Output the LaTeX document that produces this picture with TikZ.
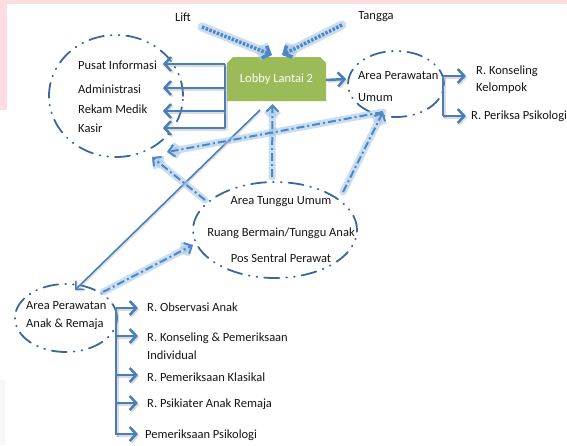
\documentclass[tikz,border=0pt]{standalone}
\usepackage{fontspec}
\setmainfont{Carlito}
\usetikzlibrary{arrows.meta,calc,shapes.geometric}
\definecolor{pinkbg}{HTML}{FCDDE1}
\definecolor{lobbygreen}{HTML}{9BBB59}
\definecolor{arrowblue}{HTML}{4A7EBB}
\definecolor{ellblue}{HTML}{3A679C}
\definecolor{glowblue}{HTML}{9DC3E6}
\definecolor{dashblue}{HTML}{4F86C6}
\begin{document}
\begin{tikzpicture}[x=1pt,y=-1pt,
  every node/.style={font=\fontsize{12.5}{15}\selectfont, inner sep=1pt, text=black!92},
  lbl/.style={anchor=west},
  zone/.style={ellipse, draw=ellblue, line width=1.8pt, line cap=round,
    dash pattern=on 15pt off 7pt on 0.8pt off 7pt on 0.8pt off 7pt, inner sep=0pt},
  lobbybox/.style={minimum width=99pt, minimum height=44pt, inner sep=0pt, text=white, fill=white,
    path picture={\fill[lobbygreen] (path picture bounding box.south west)
      -- ([yshift=-6pt]path picture bounding box.north west)
      -- ([xshift=6pt]path picture bounding box.north west)
      -- ([xshift=-6pt]path picture bounding box.north east)
      -- ([yshift=-6pt]path picture bounding box.north east)
      -- (path picture bounding box.south east) -- cycle;}},
  shadowed/.style={preaction={draw=black!40, opacity=.35, line width=2.5pt,
    transform canvas={shift={(1.5pt,-1.5pt)}}}},
  solidline/.style={draw=arrowblue, line width=2.5pt, shadowed},
  solidarrow/.style={solidline, -{Straight Barb[length=6.5pt,width=14pt]}},
  thinarrow/.style={draw=arrowblue, line width=1.6pt, -{Straight Barb[length=6pt,width=12pt]},
    preaction={draw=black!40, opacity=.3, line width=1.6pt, transform canvas={shift={(1.2pt,-1.2pt)}}}},
  glowline/.style={draw=dashblue, line width=2pt, dash pattern=on 8pt off 3pt on 2pt off 3pt,
    -{Straight Barb[length=6pt,width=12pt]},
    preaction={draw=glowblue, line width=7pt, opacity=.55, solid, line cap=round}},
  dotglow/.style={draw=dashblue, line width=3.5pt, dash pattern=on 2.5pt off 1.5pt,
    -{Straight Barb[length=6pt,width=13pt]},
    preaction={draw=glowblue, line width=9pt, opacity=.55, solid, line cap=round}}
]
\useasboundingbox (0,0) rectangle (567,445);
% background
\fill[pinkbg] (0,0) rectangle (567,4);
\fill[pinkbg] (0,0) rectangle (7,110);
\fill[black!3] (0,380) rectangle (5,445);

% zones
\node[zone, minimum width=134pt, minimum height=122pt] (left) at (116,96) {};
\node[zone, minimum width=96pt, minimum height=66pt] (apu) at (396,84) {};
\node[zone, minimum width=164pt, minimum height=96pt] (mid) at (275,230) {};
\node[zone, minimum width=102pt, minimum height=68pt] (bl) at (66,318) {};

% lobby
\node[lobbybox] (lobby) at (276.5,79) {Lobby Lantai 2};

% texts
\node (lift) at (183,17) {Lift};
\node (tangga) at (376,17) {Tangga};
\node[lbl] (pi) at (77,65) {Pusat Informasi};
\node[lbl] (adm) at (77,89) {Administrasi};
\node[lbl] (rm) at (77,109) {Rekam Medik};
\node[lbl] (ks) at (77,128) {Kasir};
\node[lbl, align=left, font=\fontsize{12.5}{22}\selectfont] (apt) at (357,87) {Area Perawatan\\Umum};
\node[lbl, align=left, font=\fontsize{12.5}{17}\selectfont] (rkk) at (475,79.5) {R. Konseling\\Kelompok};
\node[lbl] (rpp) at (470,116) {R. Periksa Psikologi};
\node (atu) at (281,202) {Area Tunggu Umum};
\node (rbt) at (281,233) {Ruang Bermain/Tunggu Anak};
\node (psp) at (281,258) {Pos Sentral Perawat};
\node[lbl, align=left, font=\fontsize{12.5}{18}\selectfont] (blt) at (25,316) {Area Perawatan\\Anak \& Remaja};
\node[lbl] (ro) at (146,307) {R. Observasi Anak};
\node[lbl] (rkp) at (146,338) {R. Konseling \& Pemeriksaan};
\node[lbl] (ind) at (146,355) {Individual};
\node[lbl] (rpk) at (146,377) {R. Pemeriksaan Klasikal};
\node[lbl] (rpa) at (146,404) {R. Psikiater Anak Remaja};
\node[lbl] (pp) at (144,435) {Pemeriksaan Psikologi};

% helper coordinates
\coordinate (lb) at ($(lobby.west)+(-2,0)$);
\coordinate (lt) at ($(lb)+(-62,0)$);
\coordinate (rb) at ($(apu.east)+(-2,-8)$);
\coordinate (rt) at ($(rb)+(23,0)$);
\coordinate (bb) at ($(bl.east)+(-2,0)$);
\coordinate (bt) at ($(bb)+(22,0)$);

% left bracket
\draw[solidline] ($(lb |- pi)+(0,-1)$) -- (lb |- ks);
\draw[solidarrow] ($(lb |- pi)+(0,-1)$) -- ($(lt |- pi)+(0,-1)$);
\draw[solidarrow] ($(lb |- adm)+(0,-1)$) -- ($(lt |- adm)+(0,-1)$);
\draw[solidarrow] ($(lb |- rm)+(0,2)$) -- ($(lt |- rm)+(0,2)$);
\draw[solidarrow] (lb |- ks) -- (lt |- ks);

% lobby to area perawatan umum
\draw[solidarrow] ($(lobby.east)+(0,1)$) -- ($(apu.west)+(-1,-5)$);

% right bracket
\draw[solidline] (rb) -- (rb |- rpp);
\draw[solidarrow] (rb) -- (rt);
\draw[solidarrow] (rb |- rpp) -- (rt |- rpp);

% bottom-left bracket
\draw[solidline] ($(bb |- ro)+(0,1)$) -- (bb |- pp);
\draw[solidarrow] ($(bb |- ro)+(0,1)$) -- ($(bt |- ro)+(0,1)$);
\draw[solidarrow] ($(bb |- rkp)+(0,-2)$) -- ($(bt |- rkp)+(0,-2)$);
\draw[solidarrow] ($(bb |- rpk)+(0,-2)$) -- ($(bt |- rpk)+(0,-2)$);
\draw[solidarrow] ($(bb |- rpa)+(0,-1)$) -- ($(bt |- rpa)+(0,-1)$);
\draw[solidarrow] ($(bb |- pp)+(0,-1)$) -- ($(bt |- pp)+(0,-1)$);

% lift / tangga
\draw[dotglow] ($(lift)+(19,10)$) -- ($(lobby)+(-4.5,-24)$);
\draw[dotglow] ($(tangga)+(-34,8)$) -- ($(lobby)+(5.5,-24)$);

% long solid line lobby -> anak & remaja
\draw[thinarrow] ($(lobby)+(-16.5,31)$) -- ($(bl)+(9,-28)$);

% dash-dot glow connectors
\draw[glowline] ($(mid)+(-3,-53)$) -- ($(lobby.south)+(-4,3)$);
\draw[glowline] ($(mid)+(-70,-30)$) -- ($(left)+(36,61)$);
\draw[glowline] ($(apu)+(-13,28)$) -- ($(left)+(51,56)$);
\draw[glowline] ($(mid)+(68,-38)$) -- ($(apu)+(-13,28)$);
\draw[glowline] ($(bl)+(37,-26)$) -- ($(mid)+(-82,15)$);
\end{tikzpicture}
\end{document}
